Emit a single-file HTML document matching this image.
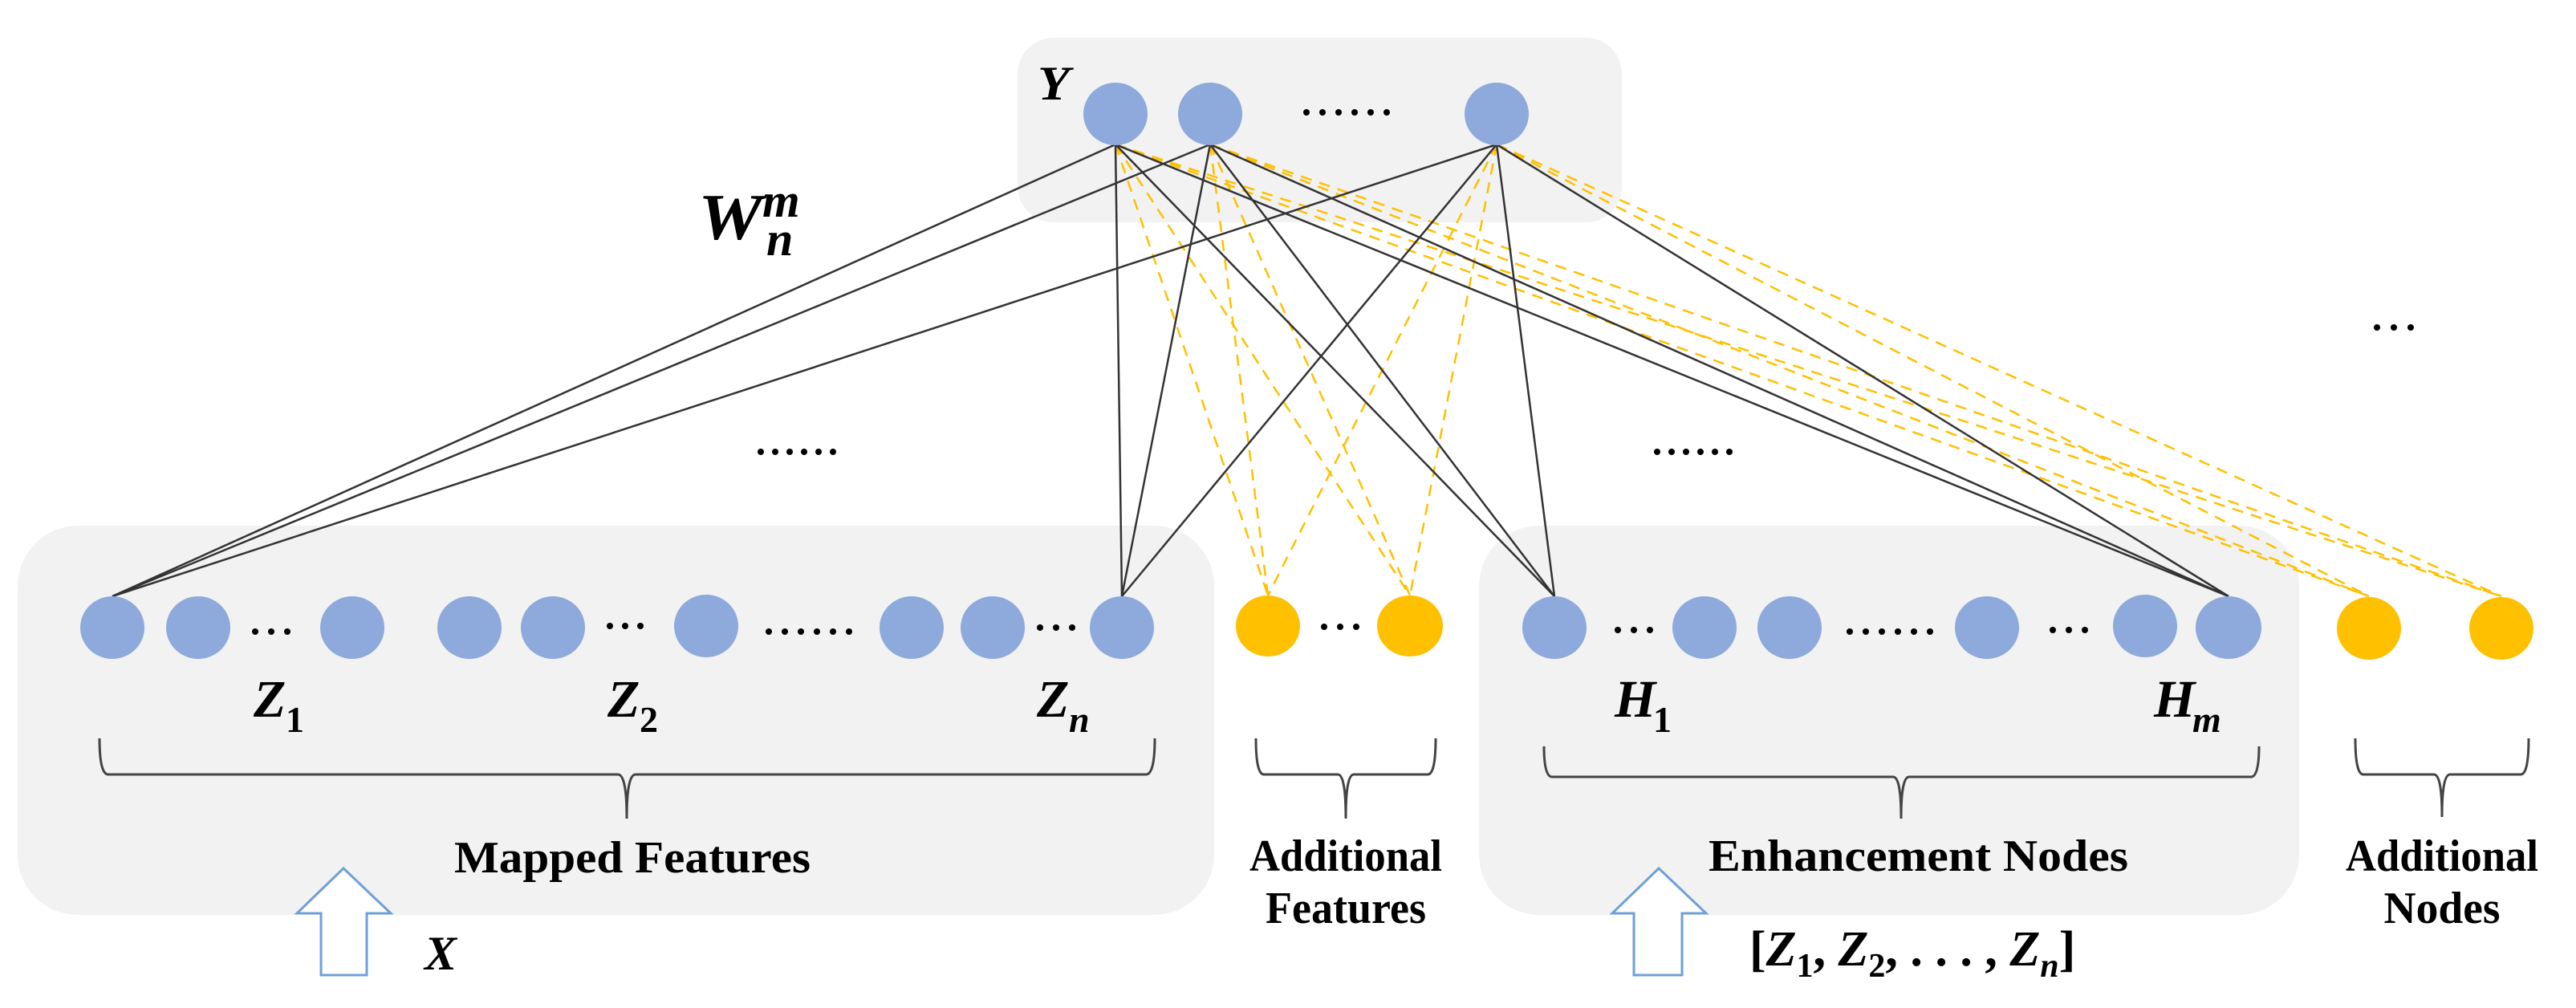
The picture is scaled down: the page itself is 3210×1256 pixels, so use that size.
<!DOCTYPE html>
<html><head><meta charset="utf-8"><style>
html,body{margin:0;padding:0;background:#fff;}
svg{display:block;}
text{font-family:"Liberation Serif",serif;font-weight:bold;fill:#000;}
</style></head><body>
<svg width="3210" height="1256" viewBox="0 0 3210 1256" xmlns="http://www.w3.org/2000/svg">
<rect x="1268" y="47" width="753" height="230" rx="45" fill="#f2f2f2"/>
<rect x="22" y="655" width="1491" height="485" rx="75" fill="#f2f2f2"/>
<rect x="1843" y="655" width="1022" height="485" rx="75" fill="#f2f2f2"/>

<g stroke="#FFC000" stroke-width="2.5" stroke-dasharray="14 10" fill="none">
<line x1="1390" y1="180" x2="1580" y2="742"/><line x1="1390" y1="180" x2="1757" y2="742"/>
<line x1="1390" y1="180" x2="2952" y2="743"/><line x1="1390" y1="180" x2="3117" y2="743"/>
<line x1="1508" y1="180" x2="1580" y2="742"/><line x1="1508" y1="180" x2="1757" y2="742"/>
<line x1="1508" y1="180" x2="2952" y2="743"/><line x1="1508" y1="180" x2="3117" y2="743"/>
<line x1="1865" y1="180" x2="1580" y2="742"/><line x1="1865" y1="180" x2="1757" y2="742"/>
<line x1="1865" y1="180" x2="2952" y2="743"/><line x1="1865" y1="180" x2="3117" y2="743"/>
</g>
<g stroke="#333" stroke-width="2.5" fill="none">
<line x1="1390" y1="180" x2="140" y2="743"/><line x1="1390" y1="180" x2="1398" y2="743"/>
<line x1="1390" y1="180" x2="1937" y2="743"/><line x1="1390" y1="180" x2="2777" y2="743"/>
<line x1="1508" y1="180" x2="140" y2="743"/><line x1="1508" y1="180" x2="1398" y2="743"/>
<line x1="1508" y1="180" x2="1937" y2="743"/><line x1="1508" y1="180" x2="2777" y2="743"/>
<line x1="1865" y1="180" x2="140" y2="743"/><line x1="1865" y1="180" x2="1398" y2="743"/>
<line x1="1865" y1="180" x2="1937" y2="743"/><line x1="1865" y1="180" x2="2777" y2="743"/>
</g>

<g fill="#8EA9DB">
<ellipse cx="1390" cy="142" rx="40" ry="39"/><ellipse cx="1508" cy="142" rx="40" ry="39"/><ellipse cx="1865" cy="142" rx="40" ry="39"/>
<ellipse cx="140" cy="782" rx="40" ry="39"/><ellipse cx="247" cy="782" rx="40" ry="39"/><ellipse cx="439" cy="782" rx="40" ry="39"/>
<ellipse cx="585" cy="782" rx="40" ry="39"/><ellipse cx="689" cy="782" rx="40" ry="39"/><ellipse cx="880" cy="780" rx="40" ry="39"/>
<ellipse cx="1136" cy="782" rx="40" ry="39"/><ellipse cx="1237" cy="782" rx="40" ry="39"/><ellipse cx="1398" cy="782" rx="40" ry="39"/>
<ellipse cx="1937" cy="782" rx="40" ry="39"/><ellipse cx="2124" cy="782" rx="40" ry="39"/><ellipse cx="2230" cy="782" rx="40" ry="39"/>
<ellipse cx="2476" cy="782" rx="40" ry="39"/><ellipse cx="2673" cy="780" rx="40" ry="39"/><ellipse cx="2777" cy="782" rx="41" ry="39"/>
</g>
<g fill="#FFC000">
<ellipse cx="1580" cy="780" rx="40" ry="38"/><ellipse cx="1757" cy="780" rx="41" ry="38"/>
<ellipse cx="2952" cy="783" rx="40" ry="39"/><ellipse cx="3117" cy="783" rx="40" ry="39"/>
</g>

<g fill="#000">
<circle cx="318" cy="787" r="4"/><circle cx="338" cy="787" r="4"/><circle cx="358" cy="787" r="4"/>
<circle cx="760" cy="780" r="4"/><circle cx="779" cy="780" r="4"/><circle cx="798" cy="780" r="4"/>
<circle cx="958" cy="787" r="4"/><circle cx="978" cy="787" r="4"/><circle cx="998" cy="787" r="4"/><circle cx="1018" cy="787" r="4"/><circle cx="1038" cy="787" r="4"/><circle cx="1058" cy="787" r="4"/>
<circle cx="1296" cy="782" r="4"/><circle cx="1316" cy="782" r="4"/><circle cx="1336" cy="782" r="4"/>
<circle cx="1650" cy="781" r="4"/><circle cx="1670" cy="781" r="4"/><circle cx="1690" cy="781" r="4"/>
<circle cx="2016" cy="785" r="4"/><circle cx="2036" cy="785" r="4"/><circle cx="2056" cy="785" r="4"/>
<circle cx="2305" cy="787" r="4"/><circle cx="2325" cy="787" r="4"/><circle cx="2345" cy="787" r="4"/><circle cx="2365" cy="787" r="4"/><circle cx="2385" cy="787" r="4"/><circle cx="2405" cy="787" r="4"/>
<circle cx="2558" cy="785" r="4"/><circle cx="2578" cy="785" r="4"/><circle cx="2598" cy="785" r="4"/>
<circle cx="1628" cy="140" r="4"/><circle cx="1648" cy="140" r="4"/><circle cx="1668" cy="140" r="4"/><circle cx="1688" cy="140" r="4"/><circle cx="1708" cy="140" r="4"/><circle cx="1728" cy="140" r="4"/>
<circle cx="948" cy="563" r="4"/><circle cx="966" cy="563" r="4"/><circle cx="984" cy="563" r="4"/><circle cx="1002" cy="563" r="4"/><circle cx="1020" cy="563" r="4"/><circle cx="1038" cy="563" r="4"/>
<circle cx="2065" cy="563" r="4"/><circle cx="2083" cy="563" r="4"/><circle cx="2101" cy="563" r="4"/><circle cx="2119" cy="563" r="4"/><circle cx="2137" cy="563" r="4"/><circle cx="2155" cy="563" r="4"/>
<circle cx="2962" cy="408" r="4"/><circle cx="2983" cy="408" r="4"/><circle cx="3004" cy="408" r="4"/>
</g>

<g stroke="#444" stroke-width="3" fill="none">
<path d="M124 920 Q124 965 135 965 L770 965 Q781 965 781 1020 Q781 965 792 965 L1428 965 Q1439 965 1439 920"/>
<path d="M1565 920 Q1565 965 1575 965 L1667 965 Q1677 965 1677 1020 Q1677 965 1687 965 L1779 965 Q1789 965 1789 920"/>
<path d="M1924 930 Q1924 968 1934 968 L2359 968 Q2369 968 2369 1020 Q2369 968 2379 968 L2805 968 Q2815 968 2815 930"/>
<path d="M2935 920 Q2935 965 2945 965 L3033 965 Q3043 965 3043 1018 Q3043 965 3053 965 L3141 965 Q3151 965 3151 920"/>
</g>

<path d="M428 1082 L487 1138 L457 1138 L457 1215 L400 1215 L400 1138 L370 1138 Z" fill="#fff" stroke="#6FA0D8" stroke-width="3"/>
<path d="M2067 1082 L2126 1138 L2096 1138 L2096 1215 L2036 1215 L2036 1138 L2009 1138 Z" fill="#fff" stroke="#6FA0D8" stroke-width="3"/>

<text x="1293" y="124" font-size="60" font-style="italic" textLength="40" lengthAdjust="spacingAndGlyphs">Y</text>
<text x="870" y="298" font-size="82" font-style="italic" textLength="80" lengthAdjust="spacingAndGlyphs">W</text>
<text x="950" y="270" font-size="60" font-style="italic">m</text>
<text x="955" y="318" font-size="60" font-style="italic">n</text>

<text x="316" y="893" font-size="66" font-style="italic">Z</text><text x="356" y="912" font-size="46">1</text>
<text x="757" y="893" font-size="66" font-style="italic">Z</text><text x="797" y="912" font-size="46">2</text>
<text x="1292" y="893" font-size="66" font-style="italic">Z</text><text x="1332" y="912" font-size="46" font-style="italic">n</text>
<text x="2012" y="893" font-size="66" font-style="italic">H</text><text x="2060" y="912" font-size="46">1</text>
<text x="2684" y="893" font-size="66" font-style="italic">H</text><text x="2732" y="912" font-size="46" font-style="italic">m</text>

<text x="566" y="1087" font-size="56" textLength="444" lengthAdjust="spacingAndGlyphs">Mapped Features</text>
<text x="2129" y="1085" font-size="56" textLength="523" lengthAdjust="spacingAndGlyphs">Enhancement Nodes</text>
<text x="1677" y="1085" font-size="56" text-anchor="middle" textLength="240" lengthAdjust="spacingAndGlyphs">Additional</text>
<text x="1677" y="1150" font-size="56" text-anchor="middle" textLength="200" lengthAdjust="spacingAndGlyphs">Features</text>
<text x="3043" y="1085" font-size="56" text-anchor="middle" textLength="240" lengthAdjust="spacingAndGlyphs">Additional</text>
<text x="3043" y="1150" font-size="56" text-anchor="middle" textLength="145" lengthAdjust="spacingAndGlyphs">Nodes</text>

<text x="529" y="1208" font-size="60" font-style="italic">X</text>
<text x="2180" y="1203" font-size="62">[<tspan font-style="italic">Z</tspan><tspan font-size="42" dy="14">1</tspan><tspan dy="-14">, </tspan><tspan font-style="italic">Z</tspan><tspan font-size="42" dy="14">2</tspan><tspan dy="-14">, . . . , </tspan><tspan font-style="italic">Z</tspan><tspan font-size="42" font-style="italic" dy="14">n</tspan><tspan dy="-14">]</tspan></text>
</svg>
</body></html>
